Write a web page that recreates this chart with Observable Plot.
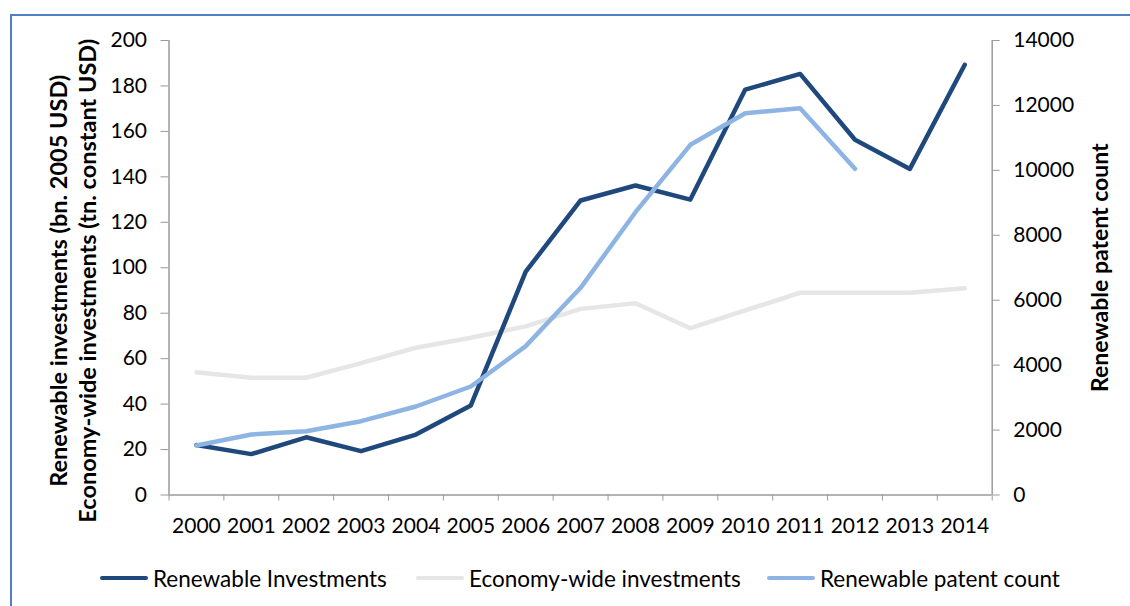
<!DOCTYPE html>
<html><head><meta charset="utf-8">
<script src="https://cdn.jsdelivr.net/npm/d3@7"></script>
<script src="https://cdn.jsdelivr.net/npm/@observablehq/plot@0.6"></script>
<style>
body{margin:0;background:#fff;font-family:Lato,sans-serif;}
#wrap{position:relative;width:1130px;height:606px;overflow:hidden;background:#fff;}
#frame{position:absolute;left:10px;top:14px;width:1300px;height:800px;border:2px solid #4f81bd;box-sizing:border-box;}
#chart{position:absolute;left:0;top:0;}
.lg{position:absolute;top:565px;height:26px;display:flex;align-items:center;font-size:22.5px;color:#000;white-space:nowrap;}
.sw{display:inline-block;width:48px;height:4.5px;border-radius:2px;margin-right:5px;}
</style></head>
<body>
<div id="wrap">
  <div id="frame"></div>
  <div id="chart"></div>
  <div id="legend"></div>
</div>
<script>
const years = [2000,2001,2002,2003,2004,2005,2006,2007,2008,2009,2010,2011,2012,2013,2014];
const renewableInv = [22,18,25.4,19.3,26.6,39.4,98.3,129.6,136.2,130,178.4,185.3,156.3,143.5,189.3];
const economyInv = [54,51.6,51.6,58,64.8,69.2,74.2,81.9,84.4,73.4,81.2,89,89,89,91];
const patentYears = [2000,2001,2002,2003,2004,2005,2006,2007,2008,2009,2010,2011,2012];
const patentCount = [1525,1864,1966,2274,2726,3342,4585,6382,8711,10787,11761,11915,10048];
const leftTicks = [0,20,40,60,80,100,120,140,160,180,200];
const rightTicks = [0,2000,4000,6000,8000,10000,12000,14000];
const seriesNames = ["Renewable Investments","Economy-wide investments","Renewable patent count"];
const seriesColors = ["#1f497d","#e6e6e6","#8eb4e3"];
const leftTitle1 = "Renewable investments (bn. 2005 USD)";
const leftTitle2 = "Economy-wide investments (tn. constant USD)";
const rightTitle = "Renewable patent count";

const ratio = 14000 / 200;
const invRows = years.map((year, i) => ({year, value: renewableInv[i]}));
const econRows = years.map((year, i) => ({year, value: economyInv[i]}));
const patRows = patentYears.map((year, i) => ({year, value: patentCount[i] / ratio}));
const bounds = d3.range(years.length + 1).map(i => years[0] - 0.5 + i);
const axisColor = "#9a9a9a";

const chart = Plot.plot({
  width: 1130, height: 560,
  marginLeft: 168.5, marginRight: 138.3, marginTop: 40, marginBottom: 65.5,
  x: {type: "linear", domain: [years[0] - 0.5, years[years.length - 1] + 0.5]},
  y: {domain: [0, 200]},
  style: {fontFamily: "Lato, sans-serif", fontSize: "21px", color: "#000", background: "transparent"},
  marks: [
    Plot.axisY(leftTicks, {anchor: "left", tickSize: 8, tickPadding: 14, stroke: axisColor, fill: "#000", fontSize: 21, label: null}),
    Plot.axisY(rightTicks.map(v => v / ratio), {anchor: "right", tickSize: 7, tickPadding: 14, stroke: axisColor, fill: "#000", fontSize: 21, label: null, tickFormat: d => String(Math.round(d * ratio))}),
    Plot.axisX(bounds, {anchor: "bottom", tickSize: 6, stroke: axisColor, tickFormat: () => "", label: null}),
    Plot.axisX(years, {anchor: "bottom", tickSize: 0, tickPadding: 23.5, fill: "#000", fontSize: 21, label: null, tickFormat: d => String(d)}),
    Plot.ruleX([bounds[0], bounds[bounds.length - 1]], {stroke: axisColor, strokeWidth: 1.5}),
    Plot.ruleY([0], {stroke: axisColor, strokeWidth: 1.5}),
    Plot.line(econRows, {x: "year", y: "value", stroke: seriesColors[1], strokeWidth: 4.5}),
    Plot.line(invRows, {x: "year", y: "value", stroke: seriesColors[0], strokeWidth: 4.5}),
    Plot.line(patRows, {x: "year", y: "value", stroke: seriesColors[2], strokeWidth: 4.5}),
    Plot.text([leftTitle1], {text: d => d, frameAnchor: "left", rotate: -90, dx: -110, dy: 13, textAnchor: "middle", lineAnchor: "middle", fontWeight: "bold", fontSize: 23.5, fill: "#000"}),
    Plot.text([leftTitle2], {text: d => d, frameAnchor: "left", rotate: -90, dx: -81, dy: 13, textAnchor: "middle", lineAnchor: "middle", fontWeight: "bold", fontSize: 23.5, fill: "#000"}),
    Plot.text([rightTitle], {text: d => d, frameAnchor: "right", rotate: -90, dx: 108, dy: 0, textAnchor: "middle", lineAnchor: "middle", fontWeight: "bold", fontSize: 23, fill: "#000"})
  ]
});
document.getElementById("chart").appendChild(chart);

const legendLefts = [100, 416, 767];
const legend = document.getElementById("legend");
seriesNames.forEach((name, i) => {
  const item = document.createElement("div");
  item.className = "lg";
  item.style.left = legendLefts[i] + "px";
  item.innerHTML = `<span class="sw" style="background:${seriesColors[i]}"></span><span>${name}</span>`;
  legend.appendChild(item);
});
</script>
</body></html>
